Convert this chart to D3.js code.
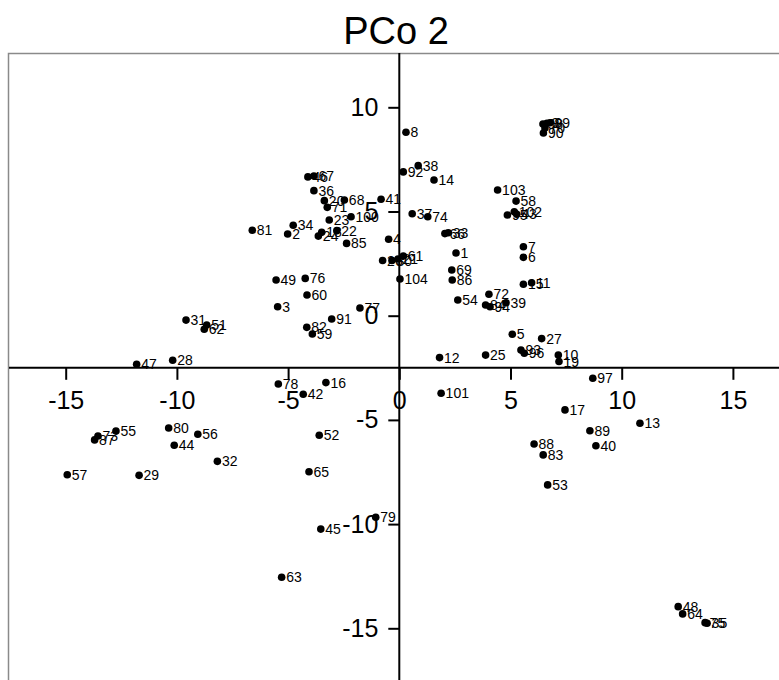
<!DOCTYPE html>
<html>
<head>
<meta charset="UTF-8">
<title>PCo 2</title>
<script src="https://cdn.jsdelivr.net/npm/d3@7"></script>
<style>
  body { margin: 0; background: #fff; }
  svg { display: block; font-family: Arial, "Liberation Sans", sans-serif; }
</style>
</head>
<body>
<div id="chart"></div>
<script>
// sample ids and their coordinates (PCo 1 across, PCo 2 up)
var ids = [46, 67, 36, 20, 68, 71, 41, 100, 23, 34, 81, 2, 18, 24, 22, 85, 4, 26, 30, 21, 61,
  104, 49, 76, 60, 3, 31, 51, 62, 82, 59, 91, 77, 47, 28, 78, 16, 42, 52, 65, 45, 79, 63,
  55, 73, 87, 80, 56, 44, 32, 57, 29,
  8, 92, 38, 14, 103, 58, 95, 102, 43, 37, 74, 66, 33, 1, 7, 6, 69, 86, 15, 11, 72, 54,
  84, 94, 39, 5, 27, 93, 96, 12, 25, 10, 19, 97, 101, 17, 13, 89, 88, 40, 83, 53,
  48, 64, 75, 35, 98, 9, 99, 70, 90];
var pco1 = [-4.11, -3.84, -3.84, -3.37, -2.47, -3.24, -0.82, -2.17, -3.15, -4.77, -6.61, -5.02, -3.49, -3.64, -2.81, -2.37, -0.48, -0.75, -0.33, -0.06, 0.18,
  0.03, -5.54, -4.23, -4.15, -5.47, -9.59, -8.66, -8.77, -4.16, -3.91, -3.04, -1.77, -11.81, -10.19, -5.44, -3.30, -4.32, -3.60, -4.06, -3.53, -1.06, -5.29,
  -12.74, -13.55, -13.70, -10.37, -9.06, -10.12, -8.18, -14.93, -11.70,
  0.30, 0.18, 0.85, 1.56, 4.42, 5.25, 4.86, 5.17, 5.28, 0.58, 1.28, 2.05, 2.20, 2.55, 5.58, 5.58, 2.36, 2.38, 5.58, 5.95, 4.03, 2.63,
  3.88, 4.08, 4.80, 5.08, 6.40, 5.47, 5.62, 1.81, 3.88, 7.15, 7.18, 8.70, 1.88, 7.45, 10.82, 8.57, 6.06, 8.84, 6.47, 6.67,
  12.54, 12.74, 13.75, 13.84, 6.46, 6.64, 6.78, 6.55, 6.48];
var pco2 = [6.66, 6.70, 6.00, 5.52, 5.55, 5.20, 5.59, 4.75, 4.59, 4.34, 4.10, 3.92, 4.00, 3.82, 4.08, 3.47, 3.67, 2.65, 2.65, 2.72, 2.86,
  1.76, 1.71, 1.79, 0.99, 0.43, -0.21, -0.45, -0.65, -0.56, -0.88, -0.16, 0.37, -2.33, -2.14, -3.28, -3.21, -3.77, -5.74, -7.49, -10.24, -9.67, -12.55,
  -5.53, -5.77, -5.96, -5.39, -5.69, -6.22, -6.99, -7.63, -7.66,
  8.80, 6.90, 7.20, 6.51, 6.03, 5.50, 4.83, 4.99, 4.87, 4.89, 4.75, 3.94, 3.98, 3.01, 3.31, 2.80, 2.19, 1.71, 1.51, 1.58, 1.03, 0.75,
  0.51, 0.43, 0.62, -0.89, -1.10, -1.65, -1.80, -2.01, -1.89, -1.89, -2.20, -3.00, -3.72, -4.52, -5.16, -5.52, -6.16, -6.24, -6.68, -8.12,
  -13.96, -14.31, -14.73, -14.76, 9.20, 9.23, 9.26, 9.01, 8.77];

var xMajor = [-15, -10, -5, 0, 5, 10, 15];
var xMinor = [-12.5, -7.5, -2.5, 2.5, 7.5, 12.5];
var yMajor = [-15, -10, -5, 0, 5, 10];
var yMinor = [-12.5, -7.5, -2.5, 2.5, 7.5];
var xAxisAt = -2.5;   // horizontal axis crosses PCo 2 here

var w = 779, h = 680;

var svg = d3.select("#chart").append("svg")
    .attr("width", w)
    .attr("height", h);

var x = d3.scaleLinear().domain([-15, 15]).range([65.7, 732.9]);
var y = d3.scaleLinear().domain([-15, 10]).range([628.3, 107.3]);

// plain hyphen minus like the original
var fmt = function(d){ return String(d); };

// title
svg.append("text")
    .attr("x", 396)
    .attr("y", 44)
    .attr("text-anchor", "middle")
    .style("font-size", "38px")
    .text("PCo 2");

// frame (runs off the right and bottom)
svg.append("rect")
    .attr("x", 8.5)
    .attr("y", 53.5)
    .attr("width", 900)
    .attr("height", 800)
    .attr("fill", "none")
    .attr("stroke", "#8a8a8a")
    .attr("stroke-width", 1.5);

var yx = y(xAxisAt);

// x axis
var gx = svg.append("g").attr("transform", "translate(0," + yx + ")");
gx.call(d3.axisBottom(x).tickValues(xMinor).tickSize(6).tickFormat(""));
gx.call(d3.axisBottom(x).tickValues(xMajor).tickSize(12).tickPadding(11).tickFormat(fmt));
gx.selectAll(".domain").remove();
gx.selectAll("line").attr("stroke", "#000").attr("stroke-width", 2);
gx.selectAll("text").style("font-size", "25px").attr("fill", "#000");
svg.append("line")
    .attr("x1", 9).attr("x2", w)
    .attr("y1", yx).attr("y2", yx)
    .attr("stroke", "#000").attr("stroke-width", 2);

// y axis
var gy = svg.append("g").attr("transform", "translate(" + x(0) + ",0)");
gy.call(d3.axisLeft(y).tickValues(yMinor).tickSize(6).tickFormat(""));
gy.call(d3.axisLeft(y).tickValues(yMajor).tickSize(11).tickPadding(10).tickFormat(fmt));
gy.selectAll(".domain").remove();
gy.selectAll("line").attr("stroke", "#000").attr("stroke-width", 2);
gy.selectAll("text").style("font-size", "25px").attr("fill", "#000");
svg.append("line")
    .attr("x1", x(0)).attr("x2", x(0))
    .attr("y1", 53).attr("y2", h)
    .attr("stroke", "#000").attr("stroke-width", 2);

// points
var pts = ids.map(function(d, i){ return {id: d, px: pco1[i], py: pco2[i]}; });

var g = svg.append("g");
g.selectAll("circle")
    .data(pts)
  .enter().append("circle")
    .attr("cx", function(d){ return x(d.px); })
    .attr("cy", function(d){ return y(d.py); })
    .attr("r", 3.8)
    .attr("fill", "#000");

g.selectAll("text")
    .data(pts)
  .enter().append("text")
    .attr("x", function(d){ return x(d.px) + 4.5; })
    .attr("y", function(d){ return y(d.py); })
    .attr("dy", "0.36em")
    .style("font-size", "14px")
    .attr("fill", "#000")
    .text(function(d){ return d.id; });
</script>
</body>
</html>
